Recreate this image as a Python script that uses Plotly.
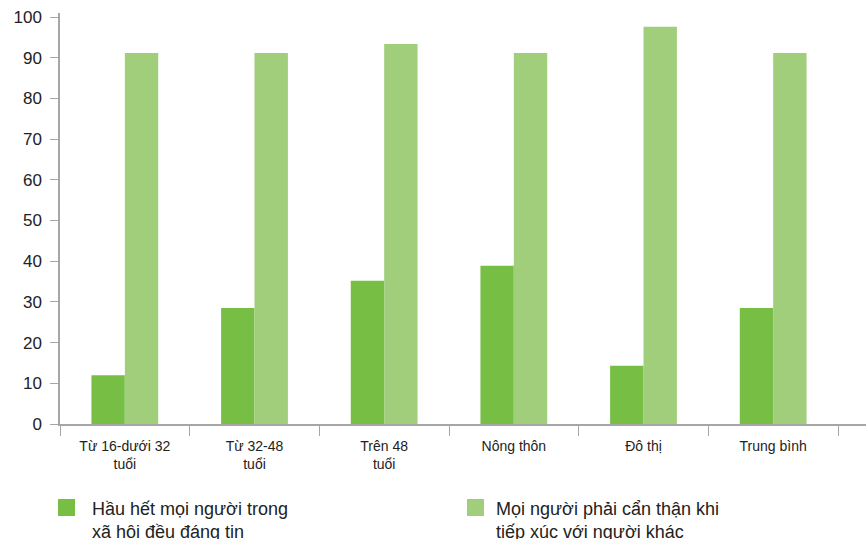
import plotly.graph_objects as go

categories = ["Từ 16-dưới 32<br>tuổi", "Từ 32-48<br>tuổi", "Trên 48<br>tuổi", "Nông thôn", "Đô thị", "Trung bình"]
series_names = ["Hầu hết mọi người trong<br>xã hội đều đáng tin", "Mọi người phải cẩn thận khi<br>tiếp xúc với người khác"]
trust = [12.0, 28.5, 35.2, 38.9, 14.3, 28.5]
careful = [91.2, 91.2, 93.4, 91.2, 97.6, 91.2]
y_ticks = [0, 10, 20, 30, 40, 50, 60, 70, 80, 90, 100]

c_dark = "#77BE45"
c_light = "#A0CE7A"

W, H = 866, 539
L, R, T, B = 60, 0, 13, 115
pw, ph = W - L - R, H - T - B

fig = go.Figure()
fig.add_bar(x=categories, y=trust, name=series_names[0], marker_color=c_dark, marker_line_width=0, showlegend=False)
fig.add_bar(x=categories, y=careful, name=series_names[1], marker_color=c_light, marker_line_width=0, showlegend=False)

font = "Liberation Sans, Arial, sans-serif"
fig.update_layout(
    width=W, height=H,
    margin=dict(l=L, r=R, t=T, b=B, pad=0),
    paper_bgcolor="white", plot_bgcolor="white",
    barmode="group", bargap=0.485, bargroupgap=0,
    font=dict(family=font, color="#222222"),
    showlegend=False,
)
cat_px = 778 / 6
fig.update_xaxes(
    type="category", range=[-0.5, -0.5 + pw / cat_px],
    showline=True, linecolor="#a6a6a6", linewidth=2,
    ticks="outside", tickson="boundaries", ticklen=10, tickcolor="#a6a6a6", tickwidth=1,
    showgrid=False, zeroline=False,
    tickfont=dict(size=14, color="#222222"),
    ticklabelstandoff=8,
)
fig.update_yaxes(
    range=[0, 101], tickvals=y_ticks,
    showline=True, linecolor="#a6a6a6", linewidth=1.5,
    ticks="outside", ticklen=8, tickcolor="#a6a6a6", tickwidth=1,
    showgrid=False, zeroline=False,
    tickfont=dict(size=17, color="#222222"),
    ticklabelstandoff=5,
)

def px_x(px):
    return (px - L) / pw

def px_y(py):
    return (H - B - py) / ph

legend_items = [(58, 75, 90, c_dark, series_names[0]), (467, 484, 494, c_light, series_names[1])]
for x0, x1, tx, col, name in legend_items:
    fig.add_shape(type="rect", xref="paper", yref="paper",
                  x0=px_x(x0), x1=px_x(x1), y0=px_y(516), y1=px_y(499),
                  fillcolor=col, line_width=0)
    fig.add_annotation(xref="paper", yref="paper", x=px_x(tx), y=px_y(497),
                       xanchor="left", yanchor="top", align="left", showarrow=False,
                       text=name, font=dict(size=18, color="#222222", family=font))

fig.write_html("out.html")
